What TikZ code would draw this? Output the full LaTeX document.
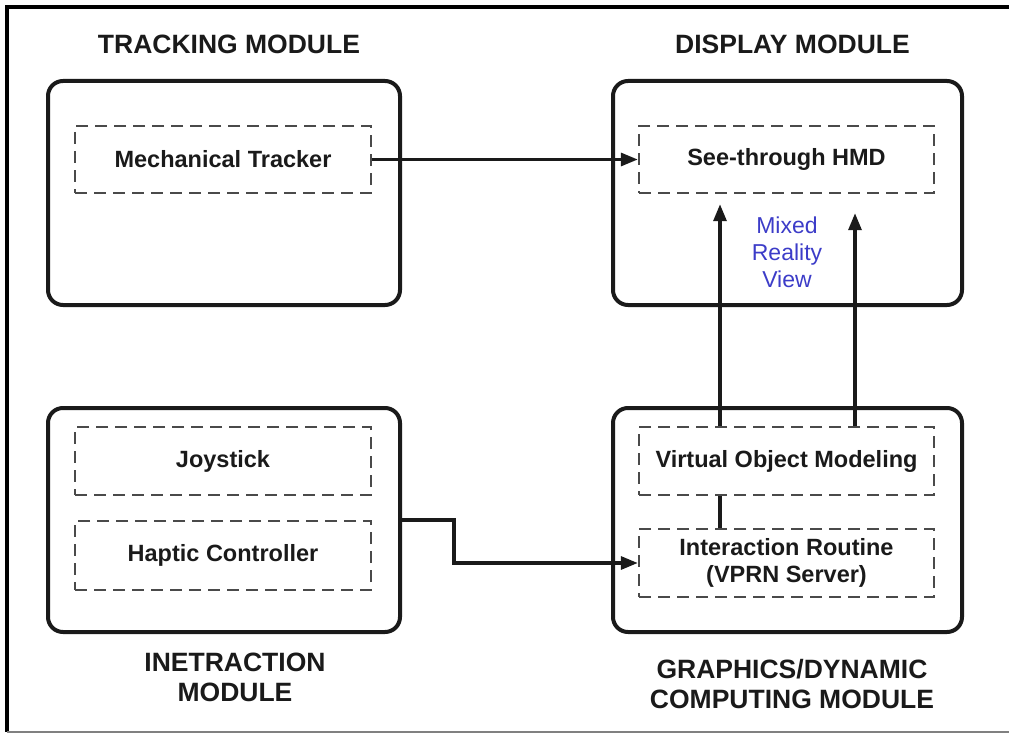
\documentclass[tikz,border=0pt]{standalone}
\usepackage{fontspec}
\setmainfont{Liberation Sans}
\usetikzlibrary{arrows.meta}

\definecolor{ink}{HTML}{1A1A1A}
\definecolor{dashgray}{HTML}{4A4A4A}
\definecolor{viewblue}{HTML}{3C3CC8}

\tikzset{
  module/.style={draw=ink, line width=4pt, rounded corners=15pt,
    inner sep=0pt, anchor=center},
  unit/.style={draw=dashgray, line width=2.4pt, dash pattern=on 12pt off 7pt,
    inner sep=0pt, minimum width=295pt, align=center, text=ink,
    font=\bfseries\fontsize{23.5}{27}\selectfont},
  heading/.style={inner sep=0pt, align=center, text=ink,
    font=\bfseries\fontsize{26.5}{30}\selectfont},
  link/.style={draw=ink, line width=3.2pt},
  flow/.style={link, -{Triangle[length=17pt,width=13pt]}},
}

\begin{document}
\begin{tikzpicture}[x=1pt,y=-1pt]
  \useasboundingbox (0,0) rectangle (1009,733);

  % page frame
  \draw[line width=4.5pt, black] (1009,7) -- (7,7) -- (7,732);
  \draw[line width=1.5pt, gray] (7,732) -- (1009,732);

  % module outlines
  \node[module, minimum width=352pt, minimum height=224pt] (track) at (224,193) {};
  \node[module, minimum width=349pt, minimum height=224pt] (disp)  at (787.5,193) {};
  \node[module, minimum width=352pt, minimum height=224pt] (inter) at (224,520) {};
  \node[module, minimum width=349pt, minimum height=224pt] (graph) at (787.5,520) {};

  % module titles
  \node[heading] (trackT) at (229,44.5) {TRACKING MODULE};
  \node[heading] (dispT)  at (792.5,44.5) {DISPLAY MODULE};
  \node[heading] (interT) at (235,677.5) {INETRACTION\\MODULE};
  \node[heading] (graphT) at (792,684) {GRAPHICS/DYNAMIC\\COMPUTING MODULE};

  % functional units
  \node[unit, minimum width=296pt, minimum height=67pt] (mt)  at (223,159.5) {Mechanical Tracker};
  \node[unit, minimum height=67pt] (hmd) at (786.5,159.5) {See-through HMD};
  \node[unit, minimum width=296pt, minimum height=68pt] (joy) at (223,461) {Joystick};
  \node[unit, minimum width=296pt, minimum height=69pt] (hap) at (223,555.5) {Haptic Controller};
  \node[unit, minimum height=68pt] (vom) at (786.5,461) {Virtual Object Modeling};
  \node[unit, minimum height=68pt] (ir)  at (786.5,563) {Interaction Routine\\(VPRN Server)};

  % output label
  \node[inner sep=0pt, align=center, text=viewblue,
        font=\fontsize{23}{27}\selectfont] (mrv) at (787,252) {Mixed\\Reality\\View};

  % columns of the vertical links
  \coordinate (colA) at (720,0);
  \coordinate (colB) at (855,0);

  % connectors
  \draw[flow] (mt.east) -- (hmd.west);
  \draw[flow, shorten >=10pt] (vom.north -| colA) -- (hmd.south -| colA);
  \draw[flow, shorten >=19pt] (vom.north -| colB) -- (hmd.south -| colB);
  \draw[link] (vom.south -| colA) -- (ir.north -| colA);
  \draw[flow] (inter.east) -- ++(52,0) |- (ir.west);
\end{tikzpicture}
\end{document}
